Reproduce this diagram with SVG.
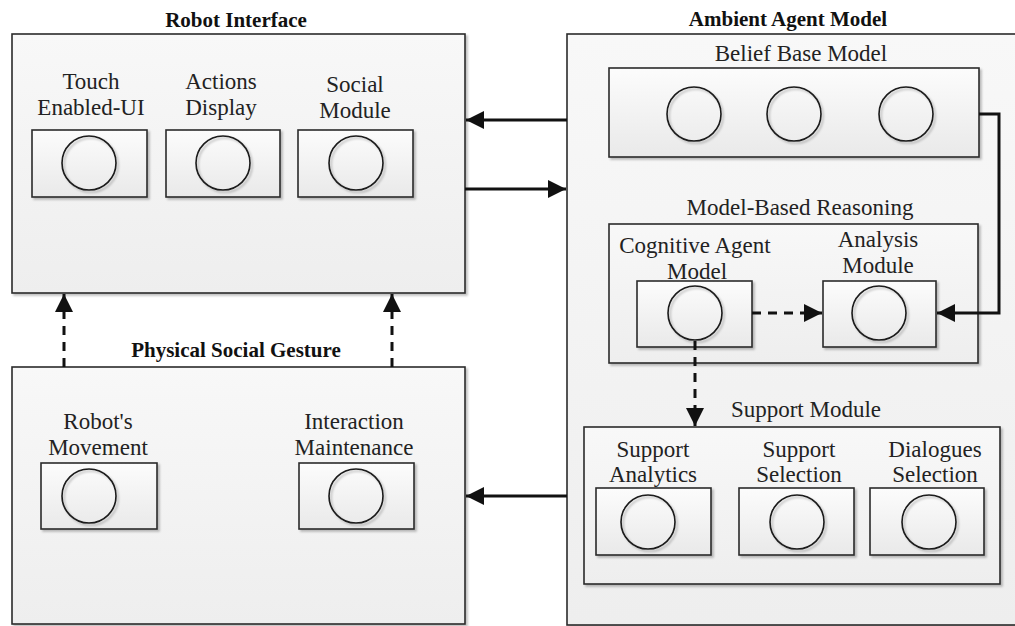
<svg xmlns="http://www.w3.org/2000/svg" width="1015" height="626" viewBox="0 0 1015 626">
  <defs>
    <linearGradient id="outerFill" x1="0" y1="0" x2="0" y2="1">
      <stop offset="0" stop-color="#f8f8f8"/>
      <stop offset="1" stop-color="#eeeeee"/>
    </linearGradient>
    <linearGradient id="innerFill" x1="0" y1="0" x2="0" y2="1">
      <stop offset="0" stop-color="#fcfcfc"/>
      <stop offset="1" stop-color="#e9e9e9"/>
    </linearGradient>
    <filter id="shadow" x="-10%" y="-10%" width="130%" height="130%">
      <feDropShadow dx="2" dy="2" stdDeviation="1.2" flood-color="#000" flood-opacity="0.25"/>
    </filter>
    <marker id="arrow" markerUnits="userSpaceOnUse" markerWidth="18" markerHeight="18" refX="18" refY="9" orient="auto">
      <path d="M0,0 L18,9 L0,18 z" fill="#111"/>
    </marker>
  </defs>
  <style>
    .outer { fill: url(#outerFill); stroke: #2a2a2a; stroke-width: 1.6; filter: url(#shadow); }
    .inner { fill: url(#innerFill); stroke: #2a2a2a; stroke-width: 1.6; filter: url(#shadow); }
    .dot { fill: none; stroke: #1a1a1a; stroke-width: 1.6; filter: url(#shadow); }
    .title { font-family: "Liberation Serif", "Times New Roman", serif; font-weight: bold; font-size: 21px; fill: #111; text-anchor: middle; }
    .label { font-family: "Liberation Serif", "Times New Roman", serif; font-size: 23px; fill: #222; text-anchor: middle; }
    .link { fill: none; stroke: #111; stroke-width: 3; marker-end: url(#arrow); }
    .dashed { stroke-dasharray: 9 7; }
  </style>

  <!-- Robot Interface -->
  <g id="robot-interface">
    <text class="title" x="236" y="27">Robot Interface</text>
    <rect class="outer" x="12" y="34" width="453" height="259"/>
    <g id="touch-ui">
      <text class="label" x="91" y="89">Touch</text>
      <text class="label" x="91" y="115">Enabled-UI</text>
      <rect class="inner" x="32" y="130" width="115" height="67"/>
      <circle class="dot" cx="89" cy="163" r="27"/>
    </g>
    <g id="actions-display">
      <text class="label" x="221" y="89">Actions</text>
      <text class="label" x="221" y="115">Display</text>
      <rect class="inner" x="166" y="130" width="114" height="67"/>
      <circle class="dot" cx="223" cy="163" r="27"/>
    </g>
    <g id="social-module">
      <text class="label" x="355" y="92">Social</text>
      <text class="label" x="355" y="118">Module</text>
      <rect class="inner" x="298" y="130" width="115" height="67"/>
      <circle class="dot" cx="356" cy="163" r="27"/>
    </g>
  </g>

  <!-- Physical Social Gesture -->
  <g id="physical-social-gesture">
    <text class="title" x="236" y="357">Physical Social Gesture</text>
    <rect class="outer" x="12" y="367" width="453" height="257"/>
    <g id="robot-movement">
      <text class="label" x="98" y="429">Robot's</text>
      <text class="label" x="98" y="455">Movement</text>
      <rect class="inner" x="41" y="463" width="116" height="66"/>
      <circle class="dot" cx="89" cy="496" r="27"/>
    </g>
    <g id="interaction-maintenance">
      <text class="label" x="354" y="429">Interaction</text>
      <text class="label" x="354" y="455">Maintenance</text>
      <rect class="inner" x="299" y="463" width="115" height="66"/>
      <circle class="dot" cx="356" cy="496" r="27"/>
    </g>
  </g>

  <!-- Ambient Agent Model -->
  <g id="ambient-agent-model">
    <text class="title" x="788" y="26">Ambient Agent Model</text>
    <rect class="outer" x="567" y="34" width="460" height="591"/>

    <g id="belief-base-model">
      <text class="label" x="801" y="61">Belief Base Model</text>
      <rect class="inner" x="609" y="68" width="370" height="89"/>
      <circle class="dot" cx="694" cy="114" r="27"/>
      <circle class="dot" cx="794" cy="114" r="27"/>
      <circle class="dot" cx="906" cy="114" r="27"/>
    </g>

    <g id="model-based-reasoning">
      <text class="label" x="800" y="215">Model-Based Reasoning</text>
      <rect class="outer" x="609" y="224" width="369" height="139"/>
      <g id="cognitive-agent-model">
        <text class="label" x="695" y="253">Cognitive Agent</text>
        <text class="label" x="697" y="279">Model</text>
        <rect class="inner" x="637" y="281" width="115" height="66"/>
        <circle class="dot" cx="695" cy="313" r="27"/>
      </g>
      <g id="analysis-module">
        <text class="label" x="878" y="247">Analysis</text>
        <text class="label" x="878" y="273">Module</text>
        <rect class="inner" x="823" y="281" width="113" height="66"/>
        <circle class="dot" cx="879" cy="313" r="27"/>
      </g>
    </g>

    <g id="support-module">
      <text class="label" x="806" y="417">Support Module</text>
      <rect class="outer" x="584" y="427" width="416" height="157"/>
      <g id="support-analytics">
        <text class="label" x="653" y="457">Support</text>
        <text class="label" x="653" y="482">Analytics</text>
        <rect class="inner" x="596" y="488" width="115" height="67"/>
        <circle class="dot" cx="648" cy="522" r="27"/>
      </g>
      <g id="support-selection">
        <text class="label" x="799" y="457">Support</text>
        <text class="label" x="799" y="482">Selection</text>
        <rect class="inner" x="739" y="488" width="115" height="67"/>
        <circle class="dot" cx="797" cy="522" r="27"/>
      </g>
      <g id="dialogues-selection">
        <text class="label" x="935" y="457">Dialogues</text>
        <text class="label" x="935" y="482">Selection</text>
        <rect class="inner" x="870" y="488" width="114" height="67"/>
        <circle class="dot" cx="929" cy="522" r="27"/>
      </g>
    </g>
  </g>

  <!-- Connectors -->
  <g id="connectors">
    <path class="link" d="M567,120 H466"/>
    <path class="link" d="M465,189 H566"/>
    <path class="link" d="M567,496 H466"/>
    <path class="link" d="M979,114 H999 V313 H937"/>
    <path class="link dashed" d="M752,313 H822"/>
    <path class="link dashed" d="M695,341 V426"/>
    <path class="link dashed" d="M64,367 V294"/>
    <path class="link dashed" d="M392,367 V294"/>
  </g>
</svg>
